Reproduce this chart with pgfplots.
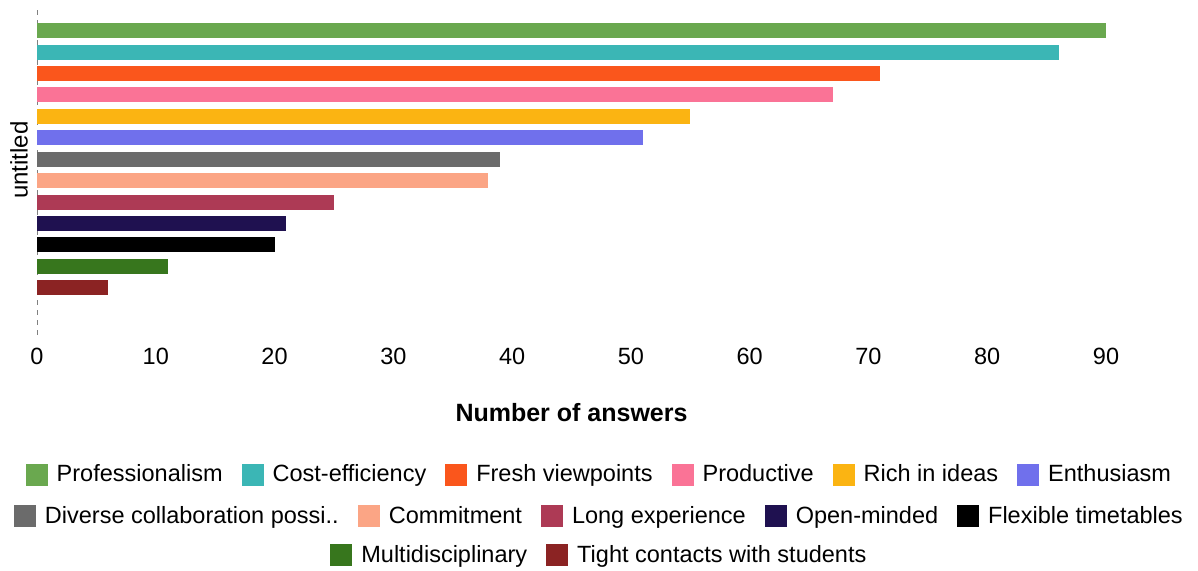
\documentclass[border=0pt]{standalone}
\usepackage{pgfplots}
\pgfplotsset{compat=1.18}
\usepackage{fontspec}
\setmainfont{Liberation Sans}
\definecolor{c1}{RGB}{106,168,79}
\definecolor{c2}{RGB}{59,182,181}
\definecolor{c3}{RGB}{250,86,28}
\definecolor{c4}{RGB}{250,115,150}
\definecolor{c5}{RGB}{251,180,18}
\definecolor{c6}{RGB}{112,112,236}
\definecolor{c7}{RGB}{107,107,107}
\definecolor{c8}{RGB}{251,165,133}
\definecolor{c9}{RGB}{173,58,85}
\definecolor{c10}{RGB}{31,17,80}
\definecolor{c11}{RGB}{0,0,0}
\definecolor{c12}{RGB}{55,118,29}
\definecolor{c13}{RGB}{139,35,35}
\pgfplotsset{
  sqlegend/.style={legend image code/.code={\fill[##1, draw=none] (0pt,-5.5pt) rectangle (11pt,5.5pt); \path (13.5pt,0pt);}},
  hbar/.style={xbar, bar shift=0pt, bar width=7.5pt, fill=#1, draw=none, sqlegend},
  legrow/.style={legend columns=-1,
    legend style={draw=none, fill=none, at={(0.527,#1)}, anchor=center,
      font=\fontsize{11.75}{14}\selectfont,
      /tikz/every even column/.append style={column sep=7.5pt}}},
  common/.style={scale only axis, width=534.5pt, height=165pt, at={(0,0)}, anchor=south west},
}
\begin{document}
\begin{tikzpicture}
\useasboundingbox (-18.5pt,-118pt) rectangle (580.5pt,167.5pt);
\begin{axis}[common,
  xmin=0, xmax=90, ymin=-2.2, ymax=13.2,
  axis x line=bottom, axis y line=left,
  x axis line style={draw=none},
  y axis line style={draw=gray, dash pattern=on 2.5pt off 2.5pt, -},
  xtick={0,10,...,90}, ytick=\empty,
  major tick length=0pt,
  /pgf/number format/assume math mode=true,
  xticklabel style={font=\fontsize{11.75}{14}\selectfont, yshift=-3pt},
  xlabel={\textbf{Number of answers}},
  xlabel style={at={(axis description cs:0.5,-0.236)}, anchor=center, font=\fontsize{12.5}{15}\selectfont},
  ylabel={untitled},
  ylabel style={at={(axis description cs:-0.0168,0.53)}, anchor=center, font=\fontsize{12}{14}\selectfont},
  legrow=-0.4242,
]
\addplot[hbar=c1] coordinates {(90,12)}; \addlegendentry{Professionalism}
\addplot[hbar=c2] coordinates {(86,11)}; \addlegendentry{Cost-efficiency}
\addplot[hbar=c3] coordinates {(71,10)}; \addlegendentry{Fresh viewpoints}
\addplot[hbar=c4] coordinates {(67,9)}; \addlegendentry{Productive}
\addplot[hbar=c5] coordinates {(55,8)}; \addlegendentry{Rich in ideas}
\addplot[hbar=c6] coordinates {(51,7)}; \addlegendentry{Enthusiasm}
\addplot[hbar=c7] coordinates {(39,6)};
\addplot[hbar=c8] coordinates {(38,5)};
\addplot[hbar=c9] coordinates {(25,4)};
\addplot[hbar=c10] coordinates {(21,3)};
\addplot[hbar=c11] coordinates {(20,2)};
\addplot[hbar=c12] coordinates {(11,1)};
\addplot[hbar=c13] coordinates {(6,0)};
\end{axis}
\begin{axis}[common, hide axis, xmin=0, xmax=1, ymin=0, ymax=1, legrow=-0.5485]
\addlegendimage{fill=c7, draw=none, sqlegend} \addlegendentry{Diverse collaboration possi..}
\addlegendimage{fill=c8, draw=none, sqlegend} \addlegendentry{Commitment}
\addlegendimage{fill=c9, draw=none, sqlegend} \addlegendentry{Long experience}
\addlegendimage{fill=c10, draw=none, sqlegend} \addlegendentry{Open-minded}
\addlegendimage{fill=c11, draw=none, sqlegend} \addlegendentry{Flexible timetables}
\end{axis}
\begin{axis}[common, hide axis, xmin=0, xmax=1, ymin=0, ymax=1, legrow=-0.6667]
\addlegendimage{fill=c12, draw=none, sqlegend} \addlegendentry{Multidisciplinary}
\addlegendimage{fill=c13, draw=none, sqlegend} \addlegendentry{Tight contacts with students}
\end{axis}
\end{tikzpicture}
\end{document}
